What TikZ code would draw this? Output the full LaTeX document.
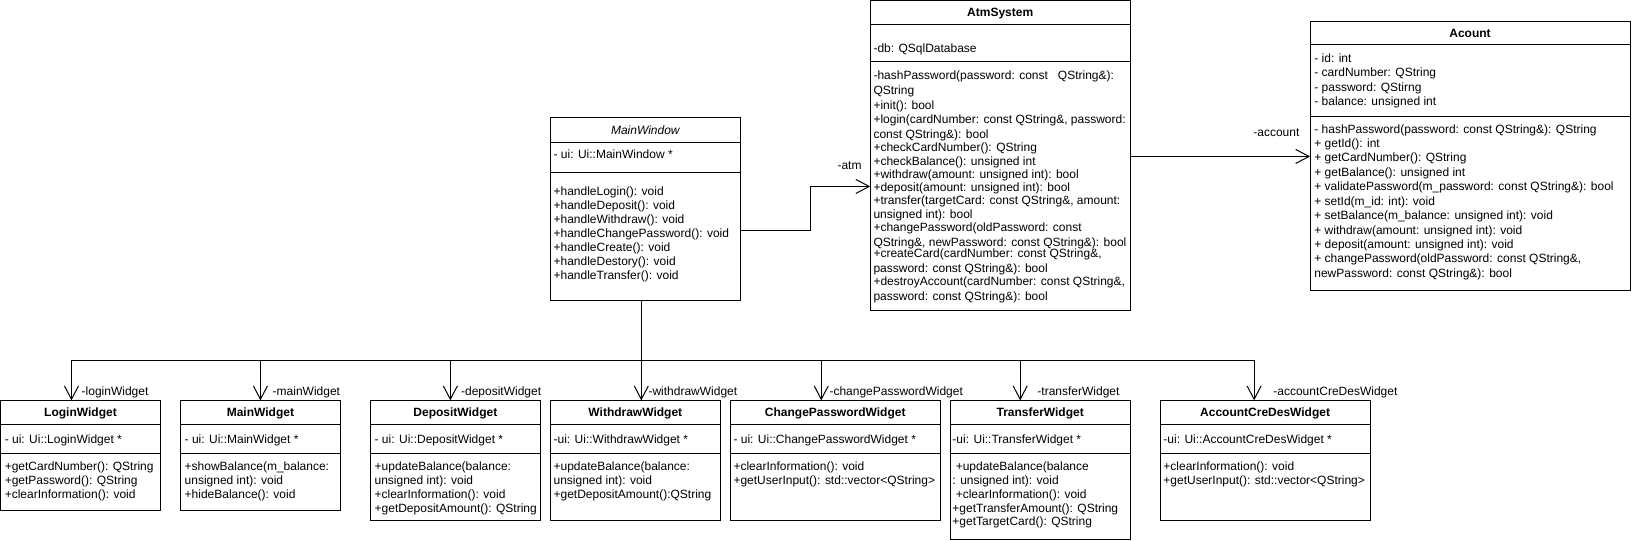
\documentclass[tikz,border=0pt]{standalone}
\usepackage{fontspec}
\setmainfont{Liberation Sans}
\usetikzlibrary{arrows.meta}
\newdimen\upx \upx=0.75pt
\newcommand\dfont{\fontsize{9pt}{10.8pt}\selectfont}
\newcommand\umlbox[8]{%
  \node[box, minimum width=#4\upx, minimum height=#5\upx] (#1) at (#2,#3) {};
  \draw[div] (#2,#6) -- ++(#4,0);
  \draw[div] (#2,#7) -- ++(#4,0);
  \node[ttl] (#1-title) at ({#2+#4/2},{(#3+#6)/2+4.3}) {#8};
}
\newcommand\umllines[5]{%
  \foreach \t [count=\i] in {#5} {\node[txt] (#1\i) at (#2,{#3+(\i-1)*#4+4.3}) {\t};}%
}
\tikzset{
  box/.style={draw=black, line width=0.75pt, inner sep=0pt, outer sep=0pt, anchor=north west},
  div/.style={draw=black, line width=0.75pt},
  txt/.style={anchor=base west, inner sep=0pt, font=\dfont},
  ttl/.style={anchor=base, inner sep=0pt, font=\dfont\bfseries},
  lbl/.style={anchor=base west, inner sep=0pt, font=\dfont},
  assoc/.style={draw=black, line width=0.75pt, -{Straight Barb[length=10pt,width=10.5pt]}}
}
\begin{document}
\begin{tikzpicture}[x=0.75pt,y=-0.75pt]
\fill[white] (0,0) rectangle (1632,540);

% ---------- MainWindow ----------
\umlbox{mw}{550}{117}{190}{183}{142}{172}{\mdseries\itshape MainWindow}
\umllines{mw-a}{553}{153.3}{14}{{- ui: Ui::MainWindow *}}
\umllines{mw-m}{553}{190.5}{14}{{+handleLogin(): void},{+handleDeposit(): void},{+handleWithdraw(): void},{+handleChangePassword(): void},{+handleCreate(): void},{+handleDestory(): void},{+handleTransfer(): void}}

% ---------- AtmSystem ----------
\umlbox{atm}{870}{0}{260}{310}{24}{61.5}{AtmSystem}
\umllines{atm-a}{873}{48}{14}{{-db: QSqlDatabase}}
\foreach \yy/\t [count=\i] in {
  75/{-hashPassword(password: const\ \ \ QString\&):},
  90/{QString},
  105/{+init(): bool},
  119/{+login(cardNumber: const QString\&, password:},
  133.7/{const QString\&): bool},
  147/{+checkCardNumber(): QString},
  160.7/{+checkBalance(): unsigned int},
  173.5/{+withdraw(amount: unsigned int): bool},
  186.7/{+deposit(amount: unsigned int): bool},
  199.5/{+transfer(targetCard: const QString\&, amount:},
  213.7/{unsigned int): bool},
  227/{+changePassword(oldPassword: const},
  241.3/{QString\&, newPassword: const QString\&): bool},
  253/{+createCard(cardNumber: const QString\&,},
  267.7/{password: const QString\&): bool},
  281/{+destroyAccount(cardNumber: const QString\&,},
  295.7/{password: const QString\&): bool}}
  {\node[txt] (atm-m\i) at (873,\yy+4.3) {\t};}

% ---------- Acount ----------
\umlbox{acc}{1310}{21}{320}{269}{44.3}{115.7}{Acount}
\umllines{acc-a}{1314}{57.7}{14.5}{{- id: int},{- cardNumber: QString},{- password: QStirng},{- balance: unsigned int}}
\umllines{acc-m}{1314}{128.3}{14.44}{{- hashPassword(password: const QString\&): QString},{+ getId(): int},{+ getCardNumber(): QString},{+ getBalance(): unsigned int},{+ validatePassword(m\_password: const QString\&): bool},{+ setId(m\_id: int): void},{+ setBalance(m\_balance: unsigned int): void},{+ withdraw(amount: unsigned int): void},{+ deposit(amount: unsigned int): void},{+ changePassword(oldPassword: const QString\&,},{newPassword: const QString\&): bool}}

% ---------- bottom widgets ----------
\umlbox{login}{0}{400}{160}{110}{424}{453}{LoginWidget}
\umllines{login-a}{4}{438.5}{14}{{- ui: Ui::LoginWidget *}}
\umllines{login-m}{4}{466}{14}{{+getCardNumber(): QString},{+getPassword(): QString},{+clearInformation(): void}}

\umlbox{main}{180}{400}{160}{110}{424}{453}{MainWidget}
\umllines{main-a}{184}{438.5}{14}{{- ui: Ui::MainWidget *}}
\umllines{main-m}{184}{466}{14}{{+showBalance(m\_balance:},{unsigned int): void},{+hideBalance(): void}}

\umlbox{dep}{370}{400}{170}{120}{424}{453}{DepositWidget}
\umllines{dep-a}{374}{438.5}{14}{{- ui: Ui::DepositWidget *}}
\umllines{dep-m}{374}{466}{14}{{+updateBalance(balance:},{unsigned int): void},{+clearInformation(): void},{+getDepositAmount(): QString}}

\umlbox{wd}{550}{400}{170}{120}{424}{453}{WithdrawWidget}
\umllines{wd-a}{553}{438.5}{14}{{-ui: Ui::WithdrawWidget *}}
\umllines{wd-m}{553}{466}{14}{{+updateBalance(balance:},{unsigned int): void},{+getDepositAmount():QString}}

\umlbox{cp}{730}{400}{210}{120}{424}{453}{ChangePasswordWidget}
\umllines{cp-a}{733}{438.5}{14}{{- ui: Ui::ChangePasswordWidget *}}
\umllines{cp-m}{733}{466}{14}{{+clearInformation(): void},{+getUserInput(): std::vector<QString>}}

\umlbox{tr}{950}{400}{180}{139}{424}{453}{TransferWidget}
\umllines{tr-a}{952}{438.5}{14}{{-ui: Ui::TransferWidget *}}
\umllines{tr-m}{952}{466}{13.8}{{\kern3.3\upx+updateBalance(balance},{: unsigned int): void},{\kern3.3\upx+clearInformation(): void},{+getTransferAmount(): QString},{+getTargetCard(): QString}}

\umlbox{acd}{1160}{400}{210}{120}{424}{453}{AccountCreDesWidget}
\umllines{acd-a}{1163}{438.5}{14}{{-ui: Ui::AccountCreDesWidget *}}
\umllines{acd-m}{1163}{466}{14}{{+clearInformation(): void},{+getUserInput(): std::vector<QString>}}

% ---------- connectors ----------
\coordinate (mwOut) at (740,230);
\coordinate (atmBend) at (810,0);
\coordinate (atmIn) at (870,186);
\draw[assoc] (mwOut) -| (atmBend |- atmIn) -- (atmIn);
\node[lbl] (l-atm) at (837,169.3) {-atm};

\coordinate (accIn) at (1310,156);
\draw[assoc] (atm.east |- accIn) -- (accIn);
\node[lbl] (l-acc) at (1253,136) {-account};

\coordinate (tk) at (641,300);
\coordinate (bus) at (0,360);
\foreach \nm/\ax/\lx/\lt in {login/71/81/-loginWidget, main/260/272/-mainWidget, dep/450/460.5/-depositWidget, wd/641/648/-withdrawWidget, cp/821/829/-changePasswordWidget, tr/1020/1037/-transferWidget, acd/1254/1273/-accountCreDesWidget}{
  \coordinate (\nm-in) at (\ax,400);
  \draw[assoc] (tk) |- (\nm-in |- bus) -- (\nm-in);
  \node[lbl] (\nm-lbl) at (\lx,395.3) {\lt};
}
\end{tikzpicture}
\end{document}
